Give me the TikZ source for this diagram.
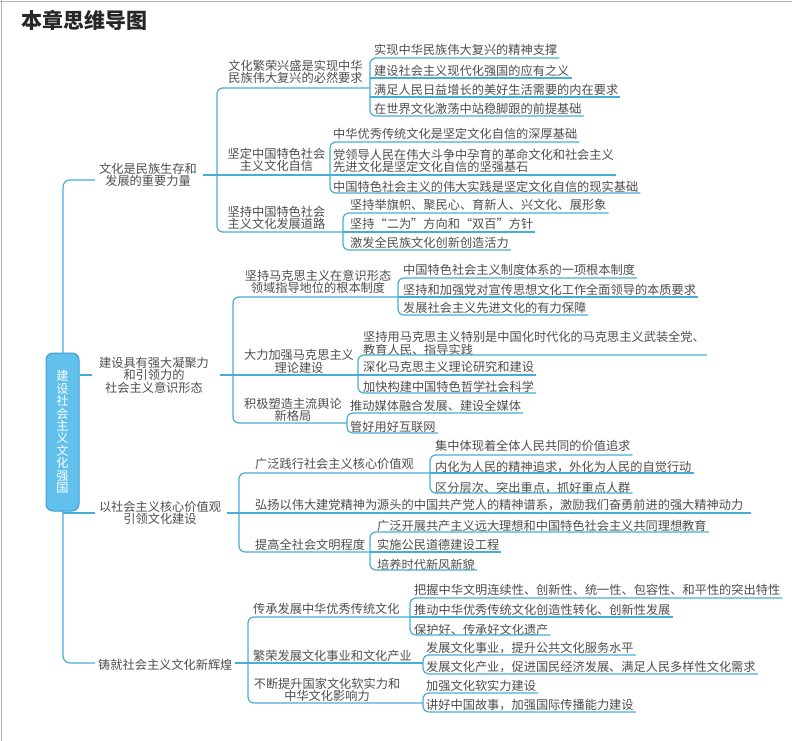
\documentclass[tikz,border=0pt]{standalone}
\usepackage{fontspec}
\newfontfamily\cjk{Noto Sans CJK SC}
\usetikzlibrary{calc}
\definecolor{lb}{RGB}{70,174,214}
\definecolor{tx}{RGB}{78,78,78}
\definecolor{cnfill}{RGB}{98,193,236}
\definecolor{cndraw}{RGB}{56,160,212}
\newcommand\mmleaf[5]{%
  \node[t3] (#1) at (#2,#3) {#4};
  \coordinate (#1e) at ($(#1.east)+(2,0)$);
  \coordinate (#1u) at (#1e |- 0,#5);}
\newcommand\lqz{\makebox[1em][r]{“}}
\newcommand\rqz{\makebox[1em][l]{”}}
\begin{document}
\begin{tikzpicture}[x=1pt,y=-1pt,
  ln/.style={draw=lb,line width=1.2pt},
  br/.style={ln,rounded corners=6pt},
  tt/.style={font=\cjk\fontsize{12.2}{12.5}\selectfont,text=tx,inner sep=0pt},
  t3/.style={tt,anchor=west,align=left},
  t2/.style={tt,align=center},
]
\useasboundingbox (0,0) rectangle (792,741);
\fill[white] (0,0) rectangle (792,741);
\draw[black!30,line width=1.2pt] (0,1.5) -- (792,1.5);
\draw[black!30,line width=1.2pt] (1.5,0) -- (1.5,741);

% title
\node[font=\cjk\bfseries\fontsize{21}{21}\selectfont,text=black!85,anchor=west,inner sep=0pt] (title) at (21,20) {本章思维导图};

% ---------- bracket x positions
\coordinate (T) at (63,0);
\coordinate (Ax) at (217,0);
\coordinate (Bx) at (233,0);
\coordinate (Cx) at (239,0);
\coordinate (Dx) at (248,0);
\coordinate (a1x) at (370,0);
\coordinate (a2x) at (330,0);
\coordinate (a3x) at (343,0);
\coordinate (b1x) at (398,0);
\coordinate (b2x) at (358,0);
\coordinate (b3x) at (347,0);
\coordinate (c1x) at (430,0);
\coordinate (c3x) at (370,0);
\coordinate (d1x) at (410,0);
\coordinate (d2x) at (423,0);
\coordinate (d3x) at (423,0);

% ---------- level 1
\node[t2] (n1) at (148,175) {文化是民族生存和\\发展的重要力量};
\node[t2] (n2) at (154,375) {建设具有强大凝聚力\\和引领力的\\社会主义意识形态};
\node[t2] (n3) at (160,513) {以社会主义核心价值观\\引领文化建设};
\node[t3] (n4) at (98,665) {铸就社会主义文化新辉煌};
\coordinate (n1l) at (95,180);
\coordinate (n1r) at (203,175);
\coordinate (n2l) at (92,375);
\coordinate (n2r) at (220,375);
\coordinate (n3l) at (95,513);
\coordinate (n3r) at (227,513);
\coordinate (n4l) at (95,663);
\coordinate (n4r) at (235,663);

% trunk
\draw[ln,rounded corners=7pt] (n1l) -- (T |- n1l) -- (T |- n4l) -- (n4l);
\draw[ln] (T |- n3l) -- (n3l);

% central node
\node[draw=cndraw,fill=cnfill,line width=1pt,rounded corners=7pt,minimum width=33pt,minimum height=158pt,inner sep=0pt,
  text=white,align=center,font=\cjk\fontsize{12.2}{12.4}\selectfont] (cn) at (62.5,432)
  {建\\设\\社\\会\\主\\义\\文\\化\\强\\国};
\draw[ln] (cn.east |- n2l) -- (n2l);

% ---------- level 2 : group A
\node[t2] (a1) at (295.5,72) {文化繁荣兴盛是实现中华\\民族伟大复兴的必然要求};
\node[t2] (a2) at (276.5,160) {坚定中国特色社会\\主义文化自信};
\node[t2] (a3) at (276.5,218) {坚持中国特色社会\\主义文化发展道路};
\coordinate (a1u) at (a1x |- 0,88);
\coordinate (a2u) at (a2x |- 0,175);
\coordinate (a3u) at (a3x |- 0,232);
\draw[br] (a1u) -- (Ax |- a1u) -- (Ax |- a3u) -- (a3u);
\draw[ln] (Ax |- a2u) -- (a2u);
\draw[ln] (n1r) -- (Ax |- n1r);

% group a1
\mmleaf{a11}{374}{50}{实现中华民族伟大复兴的精神支撑}{58}
\mmleaf{a12}{374}{70.5}{建设社会主义现代化强国的应有之义}{78}
\mmleaf{a13}{374}{89.5}{满足人民日益增长的美好生活需要的内在要求}{97}
\mmleaf{a14}{374}{109}{在世界文化激荡中站稳脚跟的前提基础}{116}
\draw[br] (a11u) -- (a1x |- a11u) -- (a1x |- a14u) -- (a14u);
\draw[ln] (a1x |- a12u) -- (a12u);
\draw[ln] (a1x |- a13u) -- (a13u);

% group a2
\mmleaf{a21}{333}{134}{中华优秀传统文化是坚定文化自信的深厚基础}{142}
\mmleaf{a22}{333}{161}{党领导人民在伟大斗争中孕育的革命文化和社会主义\\先进文化是坚定文化自信的坚强基石}{175}
\mmleaf{a23}{333}{186.5}{中国特色社会主义的伟大实践是坚定文化自信的现实基础}{193}
\draw[br] (a21u) -- (a2x |- a21u) -- (a2x |- a23u) -- (a23u);
\draw[ln] (a2x |- a22u) -- (a22u);

% group a3
\mmleaf{a31}{350}{205}{坚持举旗帜、聚民心、育新人、兴文化、展形象}{213}
\mmleaf{a32}{350}{224}{坚持\lqz 二为\rqz 方向和\lqz 双百\rqz 方针}{232}
\mmleaf{a33}{350}{243}{激发全民族文化创新创造活力}{250}
\draw[br] (a31u) -- (a3x |- a31u) -- (a3x |- a33u) -- (a33u);
\draw[ln] (a3x |- a32u) -- (a32u);

% ---------- level 2 : group B
\node[t2] (b1) at (318,282) {坚持马克思主义在意识形态\\领域指导地位的根本制度};
\node[t2] (b2) at (299,361.5) {大力加强马克思主义\\理论建设};
\node[t2] (b3) at (293,410) {积极塑造主流舆论\\新格局};
\coordinate (b1u) at (b1x |- 0,297);
\coordinate (b2u) at (b2x |- 0,375);
\coordinate (b3u) at (b3x |- 0,423);
\draw[br] (b1u) -- (Bx |- b1u) -- (Bx |- b3u) -- (b3u);
\draw[ln] (Bx |- b2u) -- (b2u);
\draw[ln] (n2r) -- (Bx |- n2r);

% group b1
\mmleaf{b11}{403}{270}{中国特色社会主义制度体系的一项根本制度}{278}
\mmleaf{b12}{403}{290}{坚持和加强党对宣传思想文化工作全面领导的本质要求}{297}
\mmleaf{b13}{403}{308}{发展社会主义先进文化的有力保障}{315}
\draw[br] (b11u) -- (b1x |- b11u) -- (b1x |- b13u) -- (b13u);
\draw[ln] (b1x |- b12u) -- (b12u);

% group b2
\mmleaf{b21}{363}{343.5}{坚持用马克思主义特别是中国化时代化的马克思主义武装全党、\\教育人民、指导实践}{355}
\mmleaf{b22}{363}{367}{深化马克思主义理论研究和建设}{375}
\mmleaf{b23}{363}{386.5}{加快构建中国特色哲学社会科学}{393}
\draw[br] (b21u) -- (b2x |- b21u) -- (b2x |- b23u) -- (b23u);
\draw[ln] (b2x |- b22u) -- (b22u);

% group b3
\mmleaf{b31}{350}{406}{推动媒体融合发展、建设全媒体}{413}
\mmleaf{b32}{350}{426.5}{管好用好互联网}{433}
\draw[br] (b31u) -- (b3x |- b31u) -- (b3x |- b32u) -- (b32u);

% ---------- level 2 : group C
\node[t3] (c1) at (255,464) {广泛践行社会主义核心价值观};
\mmleaf{c2}{255}{505}{弘扬以伟大建党精神为源头的中国共产党人的精神谱系，激励我们奋勇前进的强大精神动力}{513}
\node[t3] (c3) at (255,545) {提高全社会文明程度};
\coordinate (c1u) at (c1x |- 0,473);
\coordinate (c3u) at (c3x |- 0,552);
\draw[br] (c1u) -- (Cx |- c1u) -- (Cx |- c3u) -- (c3u);
\draw[ln] (Cx |- c2u) -- ($(c2u)+(6,0)$);
\draw[ln] (n3r) -- (Cx |- n3r);

% group c1
\mmleaf{c11}{435}{446}{集中体现着全体人民共同的价值追求}{455}
\mmleaf{c12}{435}{467}{内化为人民的精神追求，外化为人民的自觉行动}{473}
\mmleaf{c13}{435}{488}{区分层次、突出重点，抓好重点人群}{493}
\draw[br] (c11u) -- (c1x |- c11u) -- (c1x |- c13u) -- (c13u);
\draw[ln] (c1x |- c12u) -- (c12u);

% group c3
\mmleaf{c31}{377}{526}{广泛开展共产主义远大理想和中国特色社会主义共同理想教育}{532}
\mmleaf{c32}{377}{545}{实施公民道德建设工程}{552}
\mmleaf{c33}{377}{564.5}{培养时代新风新貌}{570}
\draw[br] (c31u) -- (c3x |- c31u) -- (c3x |- c33u) -- (c33u);
\draw[ln] (c3x |- c32u) -- (c32u);

% ---------- level 2 : group D
\node[t3] (d1) at (253,609) {传承发展中华优秀传统文化};
\node[t3] (d2) at (253,656) {繁荣发展文化事业和文化产业};
\node[t2] (d3) at (327,690) {不断提升国家文化软实力和\\中华文化影响力};
\coordinate (d1u) at (d1x |- 0,617);
\coordinate (d2u) at (d2x |- 0,663);
\coordinate (d3u) at (d3x |- 0,703);
\draw[br] (d1u) -- (Dx |- d1u) -- (Dx |- d3u) -- (d3u);
\draw[ln] (Dx |- d2u) -- (d2u);
\draw[ln] (n4r) -- (Dx |- n4r);

% group d1
\mmleaf{d11}{414}{590}{把握中华文明连续性、创新性、统一性、包容性、和平性的突出特性}{598}
\mmleaf{d12}{414}{609.5}{推动中华优秀传统文化创造性转化、创新性发展}{617}
\mmleaf{d13}{414}{629.5}{保护好、传承好文化遗产}{635}
\draw[br] (d11u) -- (d1x |- d11u) -- (d1x |- d13u) -- (d13u);
\draw[ln] (d1x |- d12u) -- (d12u);

% group d2
\mmleaf{d21}{426}{648}{发展文化事业，提升公共文化服务水平}{655}
\mmleaf{d22}{426}{667}{发展文化产业，促进国民经济发展、满足人民多样性文化需求}{674}
\draw[br] (d21u) -- (d2x |- d21u) -- (d2x |- d22u) -- (d22u);

% group d3
\mmleaf{d31}{426}{686}{加强文化软实力建设}{693}
\mmleaf{d32}{426}{705.5}{讲好中国故事，加强国际传播能力建设}{712}
\draw[br] (d31u) -- (d3x |- d31u) -- (d3x |- d32u) -- (d32u);
\end{tikzpicture}
\end{document}
